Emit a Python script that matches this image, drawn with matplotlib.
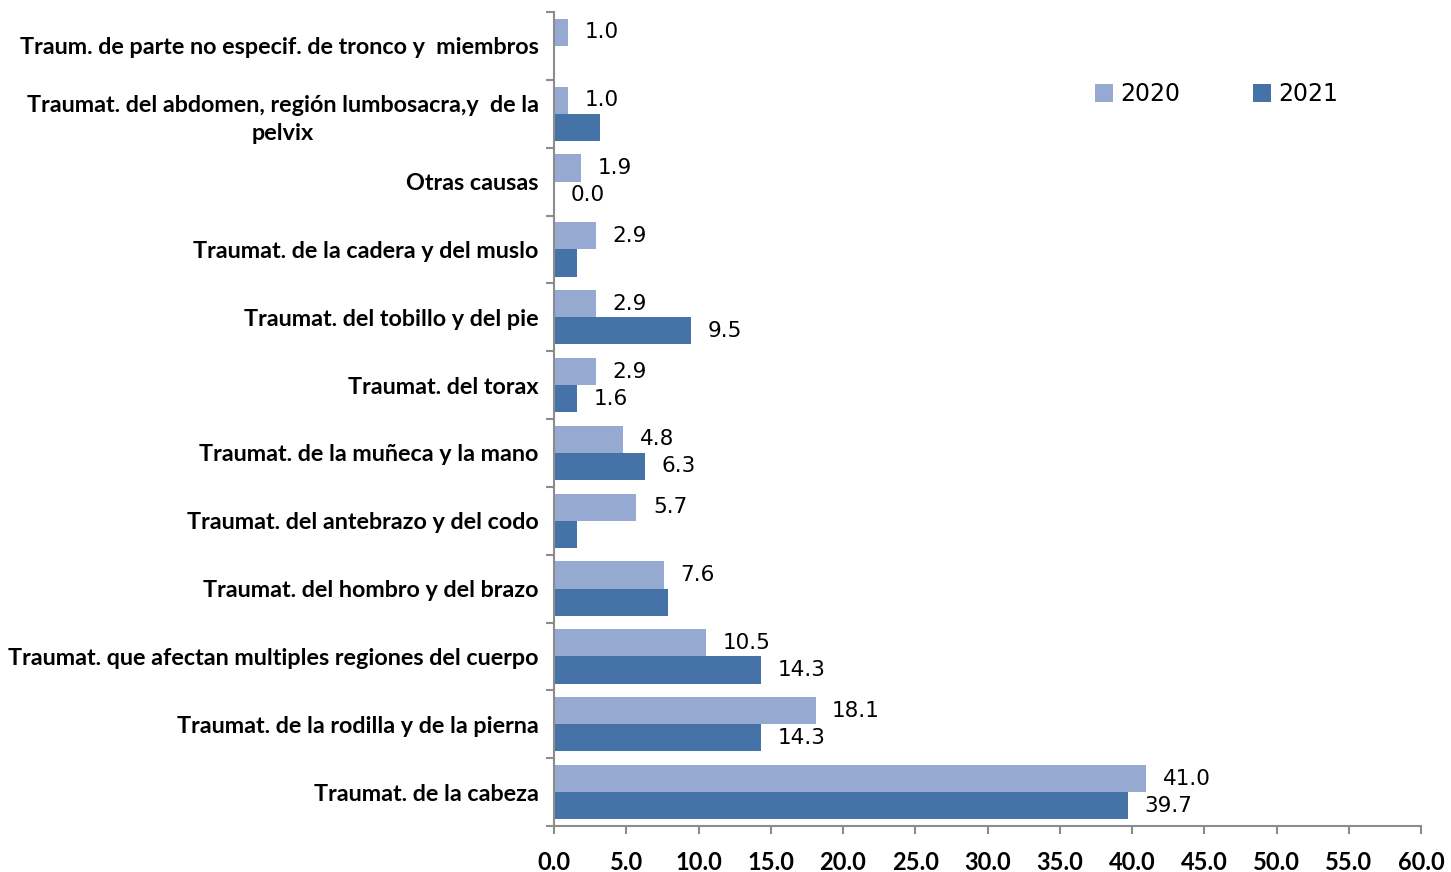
import numpy as np
import matplotlib
matplotlib.use("Agg")
import matplotlib.pyplot as plt

# data, listed top to bottom as in the chart
categories = [
    "Traum. de parte no especif. de tronco y  miembros",
    "Traumat. del abdomen, región lumbosacra,y  de la\npelvix",
    "Otras causas",
    "Traumat. de la cadera y del muslo",
    "Traumat. del tobillo y del pie",
    "Traumat. del torax",
    "Traumat. de la muñeca y la mano",
    "Traumat. del antebrazo y del codo",
    "Traumat. del hombro y del brazo",
    "Traumat. que afectan multiples regiones del cuerpo",
    "Traumat. de la rodilla y de la pierna",
    "Traumat. de la cabeza",
]
vals_2020 = [1.0, 1.0, 1.9, 2.9, 2.9, 2.9, 4.8, 5.7, 7.6, 10.5, 18.1, 41.0]
vals_2021 = [0.0, 3.2, 0.0, 1.6, 9.5, 1.6, 6.3, 1.6, 7.9, 14.3, 14.3, 39.7]
# which bars carry a data label in the original
show_2020 = [True] * 12
show_2021 = [False, False, True, False, True, True, True, False, False, True, True, True]
xticks = np.arange(0, 60.1, 5)

c2020 = "#95A9D1"
c2021 = "#4573A7"
gray = "#8C8C8C"

fig = plt.figure(figsize=(14.51, 8.72), dpi=100)
ax = fig.add_axes([554 / 1451, 1 - 826 / 872, 867 / 1451, 814 / 872])

n = len(categories)
y = np.arange(n)[::-1].astype(float)
h = 0.4
ax.barh(y + h / 2, vals_2020, height=h, color=c2020, label="2020")
ax.barh(y - h / 2, vals_2021, height=h, color=c2021, label="2021")

lbl_font = dict(fontsize=15.5, family="DejaVu Sans", va="center", ha="left")
for yy, v, s in zip(y + h / 2, vals_2020, show_2020):
    if s:
        ax.text(v + 1.15, yy, f"{v:.1f}", **lbl_font)
for yy, v, s in zip(y - h / 2, vals_2021, show_2021):
    if s:
        ax.text(v + 1.15, yy, f"{v:.1f}", **lbl_font)

ax.set_xlim(0, 60)
ax.set_ylim(-0.5, n - 0.5)
ax.set_xticks(xticks)
ax.set_xticklabels([f"{t:.1f}" for t in xticks], fontsize=17, fontweight="bold", family="Lato")
ax.set_yticks(y)
ax.set_yticklabels(categories, fontsize=16.8, fontweight="bold", family="Lato",
                   multialignment="center", linespacing=1.45)
ax.set_yticks(np.arange(n + 1) - 0.5, minor=True)
ax.tick_params(axis="y", which="major", length=0, pad=11)
ax.tick_params(axis="y", which="minor", length=6, color=gray, width=1.5)
ax.tick_params(axis="x", length=6, color=gray, width=1.5, pad=12)

for side in ["top", "right"]:
    ax.spines[side].set_visible(False)
for side in ["left", "bottom"]:
    ax.spines[side].set_color(gray)
    ax.spines[side].set_linewidth(1.5)

ax.legend(loc="center left", bbox_to_anchor=(0.6, 0.899), ncol=2, frameon=False,
          prop={"family": "DejaVu Sans", "size": 17}, handlelength=0.75,
          handleheight=0.75, columnspacing=3.1, handletextpad=0.3)

fig.savefig("out.png", dpi=100)
